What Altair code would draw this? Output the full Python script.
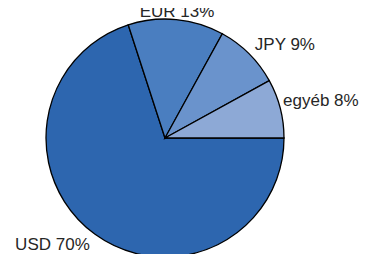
import math
import altair as alt
import pandas as pd

currencies = ["USD", "EUR", "JPY", "egyéb"]
shares = [70, 13, 9, 8]
labels = ["USD 70%", "EUR 13%", "JPY 9%", "egyéb 8%"]
colors = ["#2D66AF", "#4A7EC0", "#6A93CC", "#8DA9D6"]

df = pd.DataFrame({
    "cur": currencies,
    "val": shares,
    "label": labels,
    "ord": list(range(len(currencies))),
})

theta = alt.Theta("val:Q", stack=True,
                  scale=alt.Scale(range=[math.pi / 2, math.pi / 2 + 2 * math.pi]))
order = alt.Order("ord:Q")
cx, cy, R = 157, 130, 119

base = alt.Chart(df).encode(theta=theta, order=order,
                            x=alt.value(cx), y=alt.value(cy))

pie = base.mark_arc(radius=R, stroke="black", strokeWidth=1.3).encode(
    color=alt.Color("cur:N", scale=alt.Scale(domain=currencies, range=colors), legend=None)
)

def lab(name, align, r, dy=0, dx=0):
    return base.transform_calculate(show=f"datum.cur == '{name}'").mark_text(
        radius=r, align=align, baseline="middle", dy=dy, dx=dx,
        font="Liberation Sans", fontSize=17, color="#262626"
    ).encode(text="label:N", opacity=alt.condition("datum.show", alt.value(1), alt.value(0)))

chart = alt.layer(
    pie,
    lab("USD", "right", 128, dy=3),
    lab("EUR", "center", 127),
    lab("JPY", "left", 127, dy=-3),
    lab("egyéb", "left", 126, dy=-6, dx=-4),
).properties(
    width=352, height=246,
    autosize=alt.AutoSizeParams(type="none"),
    padding=0,
).configure_view(stroke=None)

chart.save("out.html", embed_options={"renderer": "svg", "actions": False})
